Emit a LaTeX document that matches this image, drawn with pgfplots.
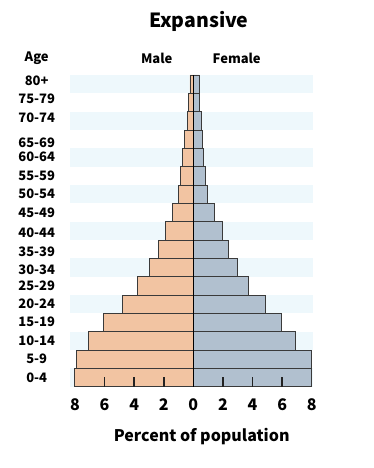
\documentclass[border=0pt]{standalone}
\usepackage{pgfplots}
\pgfplotsset{compat=1.18}
\usepackage{fontspec}
\setmainfont{Noto Sans CJK SC}
\definecolor{male}{HTML}{F2C4A2}
\definecolor{female}{HTML}{B1C0CF}
\definecolor{edge}{HTML}{3A3A3A}
\definecolor{stripe}{HTML}{EEF8FC}
\definecolor{tickc}{HTML}{222222}
\begin{document}
\begin{tikzpicture}[x=1pt,y=1pt]
\useasboundingbox (0,0) rectangle (374,468);
\begin{axis}[
  at={(70pt,81.3pt)}, anchor=south west,
  scale only axis, width=243.3pt, height=311.7pt,
  xmin=-8.33, xmax=8.1, ymin=-0.5, ymax=16.5,
  axis line style={draw=none},
  xtick={-8,-6,-4,-2,0,2,4,6,8},
  xticklabels={8,6,4,2,0,2,4,6,8},
  xtick style={draw=none},
  xticklabel style={font=\fontsize{16}{16}\selectfont\bfseries, anchor=center, yshift=-18.3pt},
  ytick={-0.03,1.01,2.02,3.03,4.03,5.02,5.88,6.88,7.92,8.97,10.01,11.03,12.03,12.83,14.16,15.19,16.19},
  yticklabels={0-4,5-9,10-14,15-19,20-24,25-29,30-34,35-39,40-44,45-49,50-54,55-59,60-64,65-69,70-74,75-79,80+},
  ytick style={draw=none},
  yticklabel style={font=\fontsize{13}{13}\selectfont\bfseries, anchor=center, xshift=-33.3pt},
]
\pgfplotsinvokeforeach{0,2,...,16}{
  \fill[stripe] (axis cs:-8.33,#1-0.5) rectangle (axis cs:8.1,#1+0.5);
}
\addplot[xbar, bar width=1, bar shift=0pt, fill=male, draw=edge, line width=0.9pt] table {
x y
-8.0 0
-7.9 1
-7.1 2
-6.1 3
-4.8 4
-3.75 5
-2.95 6
-2.35 7
-1.9 8
-1.4 9
-1.0 10
-0.86 11
-0.75 12
-0.57 13
-0.41 14
-0.3 15
-0.23 16
};
\addplot[xbar, bar width=1, bar shift=0pt, fill=female, draw=edge, line width=0.9pt] table {
x y
8.0 0
8.0 1
6.9 2
5.95 3
4.85 4
3.7 5
2.95 6
2.4 7
1.95 8
1.45 9
0.92 10
0.8 11
0.67 12
0.6 13
0.53 14
0.44 15
0.4 16
};
\coordinate (c0) at (axis cs:0,-0.5);
\coordinate (c1) at (axis cs:0,16.5);
\coordinate (tka) at (axis cs:-6,-0.5);
\coordinate (tkb) at (axis cs:-4,-0.5);
\coordinate (tkc) at (axis cs:-2,-0.5);
\coordinate (tkd) at (axis cs:2,-0.5);
\coordinate (tke) at (axis cs:4,-0.5);
\coordinate (tkf) at (axis cs:6,-0.5);
\end{axis}
\draw[black, line width=1pt] (c0) -- (c1);
\draw[tickc, line width=1.8pt] (tka) -- +(0,10);
\draw[tickc, line width=1.8pt] (tkb) -- +(0,10);
\draw[tickc, line width=1.8pt] (tkc) -- +(0,10);
\draw[tickc, line width=1.8pt] (tkd) -- +(0,10);
\draw[tickc, line width=1.8pt] (tke) -- +(0,10);
\draw[tickc, line width=1.8pt] (tkf) -- +(0,10);
\node[font=\fontsize{19.5}{19.5}\selectfont\bfseries] at (198.8,447) {Expansive};
\node[font=\fontsize{13}{13}\selectfont\bfseries] at (36.7,410) {Age};
\node[font=\fontsize{13}{13}\selectfont\bfseries] at (156.7,410) {Male};
\node[font=\fontsize{13}{13}\selectfont\bfseries] at (236.7,410) {Female};
\node[font=\fontsize{16}{16}\selectfont\bfseries] at (201.7,31.3) {Percent of population};
\end{tikzpicture}
\end{document}
